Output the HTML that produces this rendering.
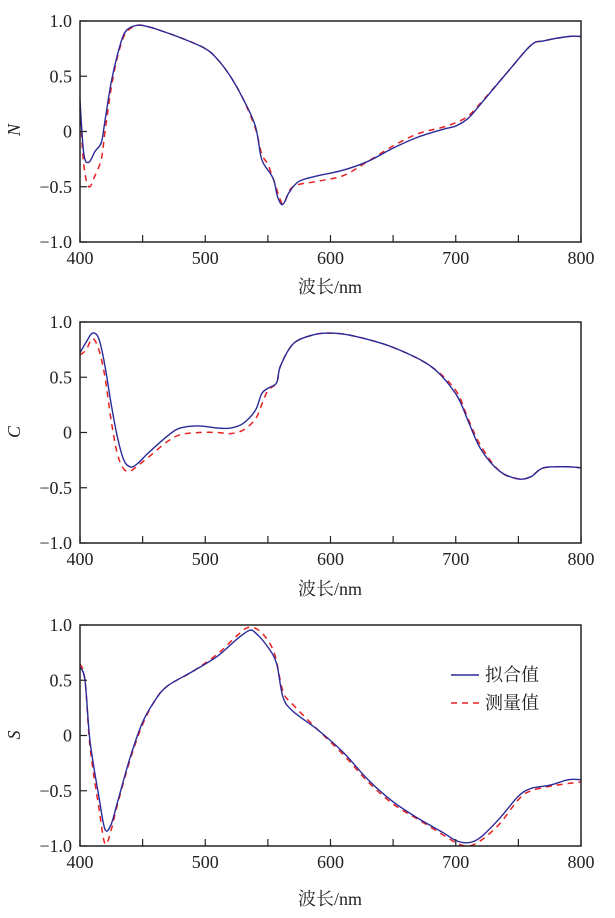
<!DOCTYPE html>
<html><head><meta charset="utf-8"><style>
body{margin:0;background:#fff}
svg text{font-family:"Liberation Serif","Noto Serif CJK SC",serif;fill:#222}
</style></head><body>
<svg id="s" width="615" height="913" xmlns="http://www.w3.org/2000/svg">
<g id="g"></g>
<text x="20" y="130" font-size="18" font-style="italic" text-anchor="middle" transform="rotate(-90 20 130)">N</text>
<text x="20" y="432" font-size="18" font-style="italic" text-anchor="middle" transform="rotate(-90 20 432)">C</text>
<text x="20" y="735" font-size="18" font-style="italic" text-anchor="middle" transform="rotate(-90 20 735)">S</text>
<text x="330" y="293" font-size="18" text-anchor="middle">波长/nm</text>
<text x="330" y="595" font-size="18" text-anchor="middle">波长/nm</text>
<text x="330" y="905" font-size="18" text-anchor="middle">波长/nm</text>
<line x1="451" y1="675" x2="479" y2="675" stroke="#2a2a9a" stroke-width="1.5"/>
<line x1="451" y1="703" x2="479" y2="703" stroke="#e82020" stroke-width="1.5" stroke-dasharray="6,5"/>
<text x="485" y="681" font-size="18">拟合值</text>
<text x="485" y="709" font-size="18">测量值</text>
</svg>
<script>
var g=document.getElementById('g'),NS='http://www.w3.org/2000/svg';
function el(t,a){var e=document.createElementNS(NS,t);for(var k in a)e.setAttribute(k,a[k]);g.appendChild(e);return e;}
var X0=80,X1=581;
function px(w){return X0+(w-400)*(X1-X0)/400;}
var panels=[
{T:21,fit:[[400,0.28],[403,-0.2],[407,-0.28],[412,-0.18],[417,-0.1],[420,0.1],[425,0.45],[430,0.7],[435,0.88],[440,0.94],[445,0.96],[450,0.96],[460,0.93],[480,0.85],[500,0.75],[510,0.65],[520,0.5],[530,0.3],[540,0.05],[545,-0.25],[552,-0.38],[555,-0.45],[558,-0.6],[562,-0.66],[567,-0.55],[575,-0.45],[590,-0.4],[610,-0.35],[630,-0.27],[650,-0.15],[670,-0.05],[690,0.02],[700,0.05],[710,0.12],[720,0.25],[740,0.52],[760,0.78],[770,0.82],[790,0.86],[800,0.86]],
meas:[[400,0.2],[403,-0.3],[407,-0.5],[412,-0.4],[417,-0.25],[420,0.0],[425,0.4],[430,0.68],[435,0.86],[440,0.93],[445,0.96],[450,0.96],[460,0.93],[480,0.85],[500,0.75],[510,0.65],[520,0.5],[530,0.3],[540,0.03],[545,-0.2],[550,-0.3],[555,-0.45],[560,-0.62],[563,-0.65],[570,-0.5],[590,-0.45],[610,-0.4],[630,-0.27],[650,-0.13],[670,-0.02],[690,0.04],[700,0.08],[710,0.14],[720,0.26],[740,0.52],[760,0.78],[770,0.82],[790,0.86],[800,0.86]]},
{T:322,fit:[[400,0.72],[405,0.82],[410,0.9],[415,0.85],[420,0.6],[425,0.25],[430,-0.05],[435,-0.25],[440,-0.31],[445,-0.29],[455,-0.18],[470,-0.03],[480,0.04],[495,0.06],[510,0.04],[520,0.04],[530,0.08],[540,0.2],[545,0.35],[550,0.4],[557,0.45],[560,0.6],[570,0.8],[585,0.88],[600,0.9],[620,0.87],[650,0.77],[680,0.6],[700,0.35],[710,0.1],[720,-0.15],[735,-0.35],[750,-0.42],[760,-0.4],[770,-0.32],[790,-0.31],[800,-0.32]],
meas:[[400,0.7],[405,0.75],[410,0.85],[415,0.75],[420,0.5],[425,0.1],[430,-0.2],[435,-0.33],[440,-0.35],[445,-0.31],[455,-0.22],[470,-0.08],[480,-0.02],[495,0.0],[510,0.0],[520,-0.01],[530,0.02],[540,0.12],[545,0.25],[550,0.38],[557,0.45],[560,0.6],[570,0.8],[585,0.88],[600,0.9],[620,0.87],[650,0.77],[680,0.6],[700,0.38],[710,0.12],[720,-0.12],[735,-0.35],[750,-0.42],[760,-0.4],[770,-0.32],[790,-0.31],[800,-0.32]]},
{T:625,fit:[[400,0.62],[404,0.5],[408,-0.05],[415,-0.55],[420,-0.85],[425,-0.8],[430,-0.6],[440,-0.2],[450,0.12],[460,0.32],[470,0.45],[490,0.58],[510,0.72],[525,0.87],[535,0.95],[540,0.93],[550,0.8],[557,0.65],[562,0.35],[570,0.22],[590,0.05],[610,-0.15],[630,-0.4],[650,-0.6],[670,-0.75],[690,-0.88],[700,-0.95],[710,-0.97],[720,-0.92],[735,-0.75],[750,-0.55],[760,-0.48],[775,-0.45],[790,-0.4],[800,-0.4]],
meas:[[400,0.65],[404,0.5],[408,-0.1],[415,-0.65],[420,-0.98],[425,-0.85],[430,-0.62],[440,-0.22],[450,0.1],[460,0.32],[470,0.45],[490,0.58],[510,0.74],[525,0.9],[535,0.98],[545,0.93],[555,0.75],[562,0.4],[570,0.28],[590,0.05],[610,-0.17],[630,-0.42],[650,-0.62],[670,-0.76],[690,-0.9],[700,-0.97],[710,-1.0],[720,-0.95],[735,-0.8],[750,-0.58],[760,-0.5],[780,-0.45],[800,-0.42]]}];
panels.forEach(function(p){
 var T=p.T,H=221;function py(v){return T+(1-v)*H/2;}
 function d(a){var P=a.map(function(q){return [px(q[0]),py(q[1])];});
  var s='M'+P[0][0].toFixed(1)+','+P[0][1].toFixed(1);
  for(var i=0;i<P.length-1;i++){var p0=P[Math.max(0,i-1)],p1=P[i],p2=P[i+1],p3=P[Math.min(P.length-1,i+2)];
   var c1=[p1[0]+(p2[0]-p0[0])/6,p1[1]+(p2[1]-p0[1])/6],c2=[p2[0]-(p3[0]-p1[0])/6,p2[1]-(p3[1]-p1[1])/6];
   s+='C'+c1[0].toFixed(1)+','+c1[1].toFixed(1)+' '+c2[0].toFixed(1)+','+c2[1].toFixed(1)+' '+p2[0].toFixed(1)+','+p2[1].toFixed(1);}
  return s;}
 el('path',{d:d(p.meas),fill:'none',stroke:'#e82020','stroke-width':1.5,'stroke-dasharray':'6,5'});
 el('path',{d:d(p.fit),fill:'none',stroke:'#2a2a9a','stroke-width':1.4});
 el('rect',{x:X0,y:T,width:X1-X0,height:H,fill:'none',stroke:'#222','stroke-width':1.5});
 for(var w=400;w<=800;w+=50){el('line',{x1:px(w),x2:px(w),y1:T+H,y2:T+H-7,stroke:'#222','stroke-width':1.2});
  if(w%100==0){var t=el('text',{x:px(w),y:T+H+22,'font-size':18,'text-anchor':'middle'});t.textContent=w;}}
 [1,0.5,0,-0.5,-1].forEach(function(v){el('line',{x1:X0,x2:X0+7,y1:py(v),y2:py(v),stroke:'#222','stroke-width':1.2});
  var t=el('text',{x:72,y:py(v)+6,'font-size':18,'text-anchor':'end'});t.textContent=v==0?'0':(v<0?'\u2212':'')+Math.abs(v).toFixed(1);});
});
</script>
</body></html>
